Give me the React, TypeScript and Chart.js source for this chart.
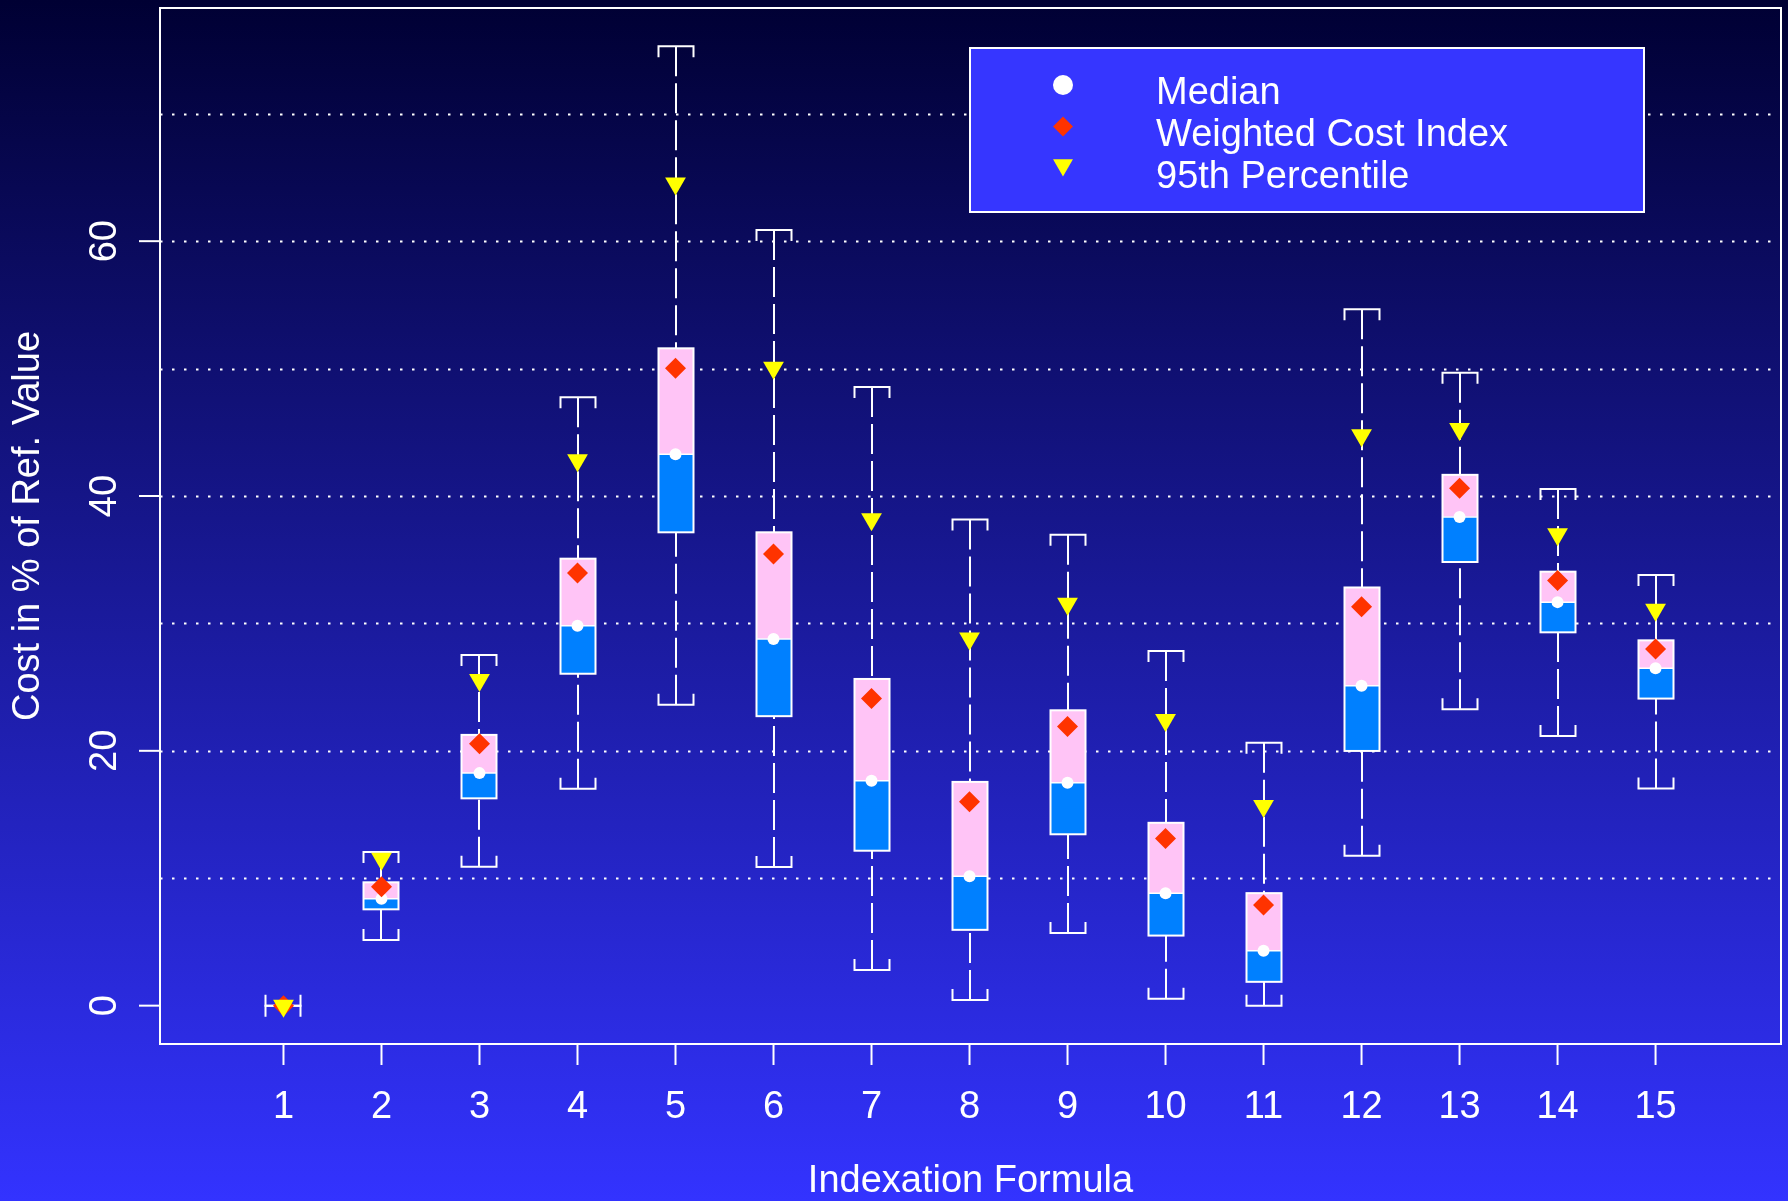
import React, { useEffect, useRef } from "react";
import { Chart, registerables } from "chart.js";

Chart.register(...registerables);

// Indexation formulas on the x axis
const formulas = [1, 2, 3, 4, 5, 6, 7, 8, 9, 10, 11, 12, 13, 14, 15];

// Box plot statistics (cost in % of reference value)
const upperWhisker = [0, 12.05, 27.53, 47.75, 75.3, 60.87, 48.56, 38.15, 36.95, 27.83, 20.63, 54.66, 49.67, 40.55, 33.8];
const upperQuartile = [0, 9.68, 21.25, 35.08, 51.59, 37.15, 25.64, 17.56, 23.18, 14.35, 8.83, 32.82, 41.66, 34.06, 28.67];
const medians = [0, 8.39, 18.25, 29.81, 43.28, 28.78, 17.65, 10.15, 17.5, 8.83, 4.3, 25.1, 38.36, 31.67, 26.48];
const lowerQuartile = [0, 7.56, 16.27, 26.05, 37.15, 22.72, 12.16, 5.95, 13.45, 5.5, 1.87, 19.99, 34.82, 29.3, 24.1];
const lowerWhisker = [0, 5.15, 10.9, 17.02, 23.62, 10.88, 2.8, 0.45, 5.7, 0.54, 0.0, 11.77, 23.26, 21.16, 17.05];

// Summary markers
const weightedCostIndex = [0, 9.33, 20.56, 33.95, 50.03, 35.44, 24.1, 16.0, 21.91, 13.12, 7.9, 31.3, 40.61, 33.36, 28.0];
const percentile95 = [0, 11.53, 25.55, 42.81, 64.53, 50.06, 38.18, 28.82, 31.54, 22.41, 15.67, 44.76, 45.26, 37.0, 31.07];

// Axis ticks and gridlines
const yTicks = [0, 20, 40, 60];
const yGrid = [10, 20, 30, 40, 50, 60, 70];

const legendLabels = ["Median", "Weighted Cost Index", "95th Percentile"];

const FONT = "'Liberation Sans', Arial, Helvetica, sans-serif";
const PINK = "#ffc4f6";
const AZURE = "#0080ff";
const RED = "#ff3300";
const YELLOW = "#ffff00";

const boxPlotPlugin = {
  id: "boxPlotDecor",
  beforeDraw(chart: any) {
    const { ctx, width, height } = chart;
    const g = ctx.createLinearGradient(0, 0, 0, height);
    g.addColorStop(0, "#000033");
    g.addColorStop(1, "#3333ff");
    ctx.save();
    ctx.fillStyle = g;
    ctx.fillRect(0, 0, width, height);
    ctx.restore();
  },
  beforeDatasetsDraw(chart: any) {
    const { ctx, chartArea } = chart;
    const xs = chart.scales.x;
    const ys = chart.scales.y;
    const { left, right, top, bottom } = chartArea;
    ctx.save();

    // dotted horizontal gridlines
    ctx.strokeStyle = "#ffffff";
    ctx.lineWidth = 2;
    ctx.setLineDash([2.5, 9.5]);
    for (const v of yGrid) {
      const y = Math.round(ys.getPixelForValue(v)) + 0.5;
      ctx.beginPath();
      ctx.moveTo(left, y);
      ctx.lineTo(right, y);
      ctx.stroke();
    }
    ctx.setLineDash([]);

    // plot frame
    ctx.lineWidth = 2;
    ctx.strokeRect(left, top, right - left, bottom - top);

    // axis ticks and labels
    ctx.fillStyle = "#ffffff";
    ctx.font = `38px ${FONT}`;
    ctx.textAlign = "center";
    ctx.textBaseline = "middle";
    for (const v of yTicks) {
      const y = ys.getPixelForValue(v);
      ctx.beginPath();
      ctx.moveTo(left - 21, y);
      ctx.lineTo(left, y);
      ctx.stroke();
      ctx.save();
      ctx.translate(106, y);
      ctx.rotate(-Math.PI / 2);
      ctx.fillText(String(v), 0, 0);
      ctx.restore();
    }
    for (const f of formulas) {
      const x = xs.getPixelForValue(f);
      ctx.beginPath();
      ctx.moveTo(x, bottom);
      ctx.lineTo(x, bottom + 21);
      ctx.stroke();
      ctx.fillText(String(f), x, 1108);
    }

    // axis titles
    ctx.fillText("Indexation Formula", (left + right) / 2, 1182);
    ctx.save();
    ctx.translate(29, (top + bottom) / 2);
    ctx.rotate(-Math.PI / 2);
    ctx.fillText("Cost in % of Ref. Value", 0, 0);
    ctx.restore();

    // boxes, whiskers and staples
    const half = 17.5;
    const hook = 11;
    formulas.forEach((f, i) => {
      const x = Math.round(xs.getPixelForValue(f));
      const yHi = ys.getPixelForValue(upperWhisker[i]);
      const yQ3 = ys.getPixelForValue(upperQuartile[i]);
      const yMed = ys.getPixelForValue(medians[i]);
      const yQ1 = ys.getPixelForValue(lowerQuartile[i]);
      const yLo = ys.getPixelForValue(lowerWhisker[i]);

      ctx.strokeStyle = "#ffffff";
      ctx.lineWidth = 2;

      // whiskers, dashed from the staple toward the box
      ctx.setLineDash([30, 7]);
      ctx.beginPath();
      ctx.moveTo(x, yHi);
      ctx.lineTo(x, yQ3);
      ctx.stroke();
      ctx.beginPath();
      ctx.moveTo(x, yLo);
      ctx.lineTo(x, yQ1);
      ctx.stroke();
      ctx.setLineDash([]);

      // staples with hooks pointing toward the box
      ctx.beginPath();
      ctx.moveTo(x - half, yHi + hook);
      ctx.lineTo(x - half, yHi);
      ctx.lineTo(x + half, yHi);
      ctx.lineTo(x + half, yHi + hook);
      ctx.stroke();
      ctx.beginPath();
      ctx.moveTo(x - half, yLo - hook);
      ctx.lineTo(x - half, yLo);
      ctx.lineTo(x + half, yLo);
      ctx.lineTo(x + half, yLo - hook);
      ctx.stroke();

      // box halves
      if (yQ1 - yQ3 > 0.5) {
        ctx.fillStyle = PINK;
        ctx.fillRect(x - half, yQ3, 2 * half, yMed - yQ3);
        ctx.fillStyle = AZURE;
        ctx.fillRect(x - half, yMed, 2 * half, yQ1 - yMed);
        ctx.strokeRect(x - half, yQ3, 2 * half, yQ1 - yQ3);
        ctx.lineWidth = 1.5;
        ctx.beginPath();
        ctx.moveTo(x - half, yMed);
        ctx.lineTo(x + half, yMed);
        ctx.stroke();
      }
    });
    ctx.restore();
  },
  afterDraw(chart: any) {
    const { ctx } = chart;
    ctx.save();
    // legend panel
    ctx.fillStyle = "#3636ff";
    ctx.fillRect(970, 48, 674, 164);
    ctx.strokeStyle = "#ffffff";
    ctx.lineWidth = 2;
    ctx.strokeRect(970, 48, 674, 164);

    const sx = 1063;
    // median marker
    ctx.fillStyle = "#ffffff";
    ctx.beginPath();
    ctx.arc(sx, 85, 10, 0, Math.PI * 2);
    ctx.fill();
    // weighted cost index marker
    ctx.fillStyle = RED;
    ctx.beginPath();
    ctx.moveTo(sx, 116.5);
    ctx.lineTo(sx + 10, 126.5);
    ctx.lineTo(sx, 136.5);
    ctx.lineTo(sx - 10, 126.5);
    ctx.closePath();
    ctx.fill();
    // 95th percentile marker
    ctx.fillStyle = YELLOW;
    const r = 11.5;
    const cy = 165;
    ctx.beginPath();
    ctx.moveTo(sx - r * 0.866, cy - r / 2);
    ctx.lineTo(sx + r * 0.866, cy - r / 2);
    ctx.lineTo(sx, cy + r);
    ctx.closePath();
    ctx.fill();

    ctx.fillStyle = "#ffffff";
    ctx.font = `38px ${FONT}`;
    ctx.textAlign = "left";
    ctx.textBaseline = "alphabetic";
    ctx.fillText(legendLabels[0], 1156, 104);
    ctx.fillText(legendLabels[1], 1156, 145.5);
    ctx.fillText(legendLabels[2], 1156, 187.5);
    ctx.restore();
  },
};

export default function App() {
  const canvasRef = useRef<HTMLCanvasElement | null>(null);

  useEffect(() => {
    const canvas = canvasRef.current;
    if (!canvas) return;
    const chart = new Chart(canvas, {
      type: "scatter",
      data: {
        datasets: [
          {
            label: legendLabels[2],
            data: formulas.map((f, i) => ({ x: f, y: percentile95[i] })),
            pointStyle: "triangle",
            rotation: 180,
            pointRadius: 12,
            backgroundColor: YELLOW,
            borderColor: YELLOW,
            borderWidth: 0,
          },
          {
            label: legendLabels[1],
            data: formulas.map((f, i) => ({ x: f, y: weightedCostIndex[i] })),
            pointStyle: "rectRot",
            pointRadius: 10.5,
            backgroundColor: RED,
            borderColor: RED,
            borderWidth: 0,
          },
          {
            label: legendLabels[0],
            data: formulas.map((f, i) => ({ x: f, y: medians[i] })),
            pointStyle: "circle",
            pointRadius: 6,
            backgroundColor: "#ffffff",
            borderColor: "#ffffff",
            borderWidth: 0,
          },
        ],
      },
      options: {
        animation: false,
        responsive: false,
        devicePixelRatio: 1,
        layout: { autoPadding: false, padding: { left: 160, right: 7, top: 8, bottom: 157 } },
        scales: {
          x: { type: "linear", min: -0.26, max: 16.28, display: false },
          y: { type: "linear", min: -3.01, max: 78.3, display: false },
        },
        plugins: {
          legend: { display: false },
          tooltip: { enabled: false },
        },
      },
      plugins: [boxPlotPlugin],
    });
    return () => chart.destroy();
  }, []);

  return (
    <div style={{ position: "fixed", left: 0, top: 0, width: 1788, height: 1201 }}>
      <canvas ref={canvasRef} width={1788} height={1201} style={{ display: "block" }} />
    </div>
  );
}
